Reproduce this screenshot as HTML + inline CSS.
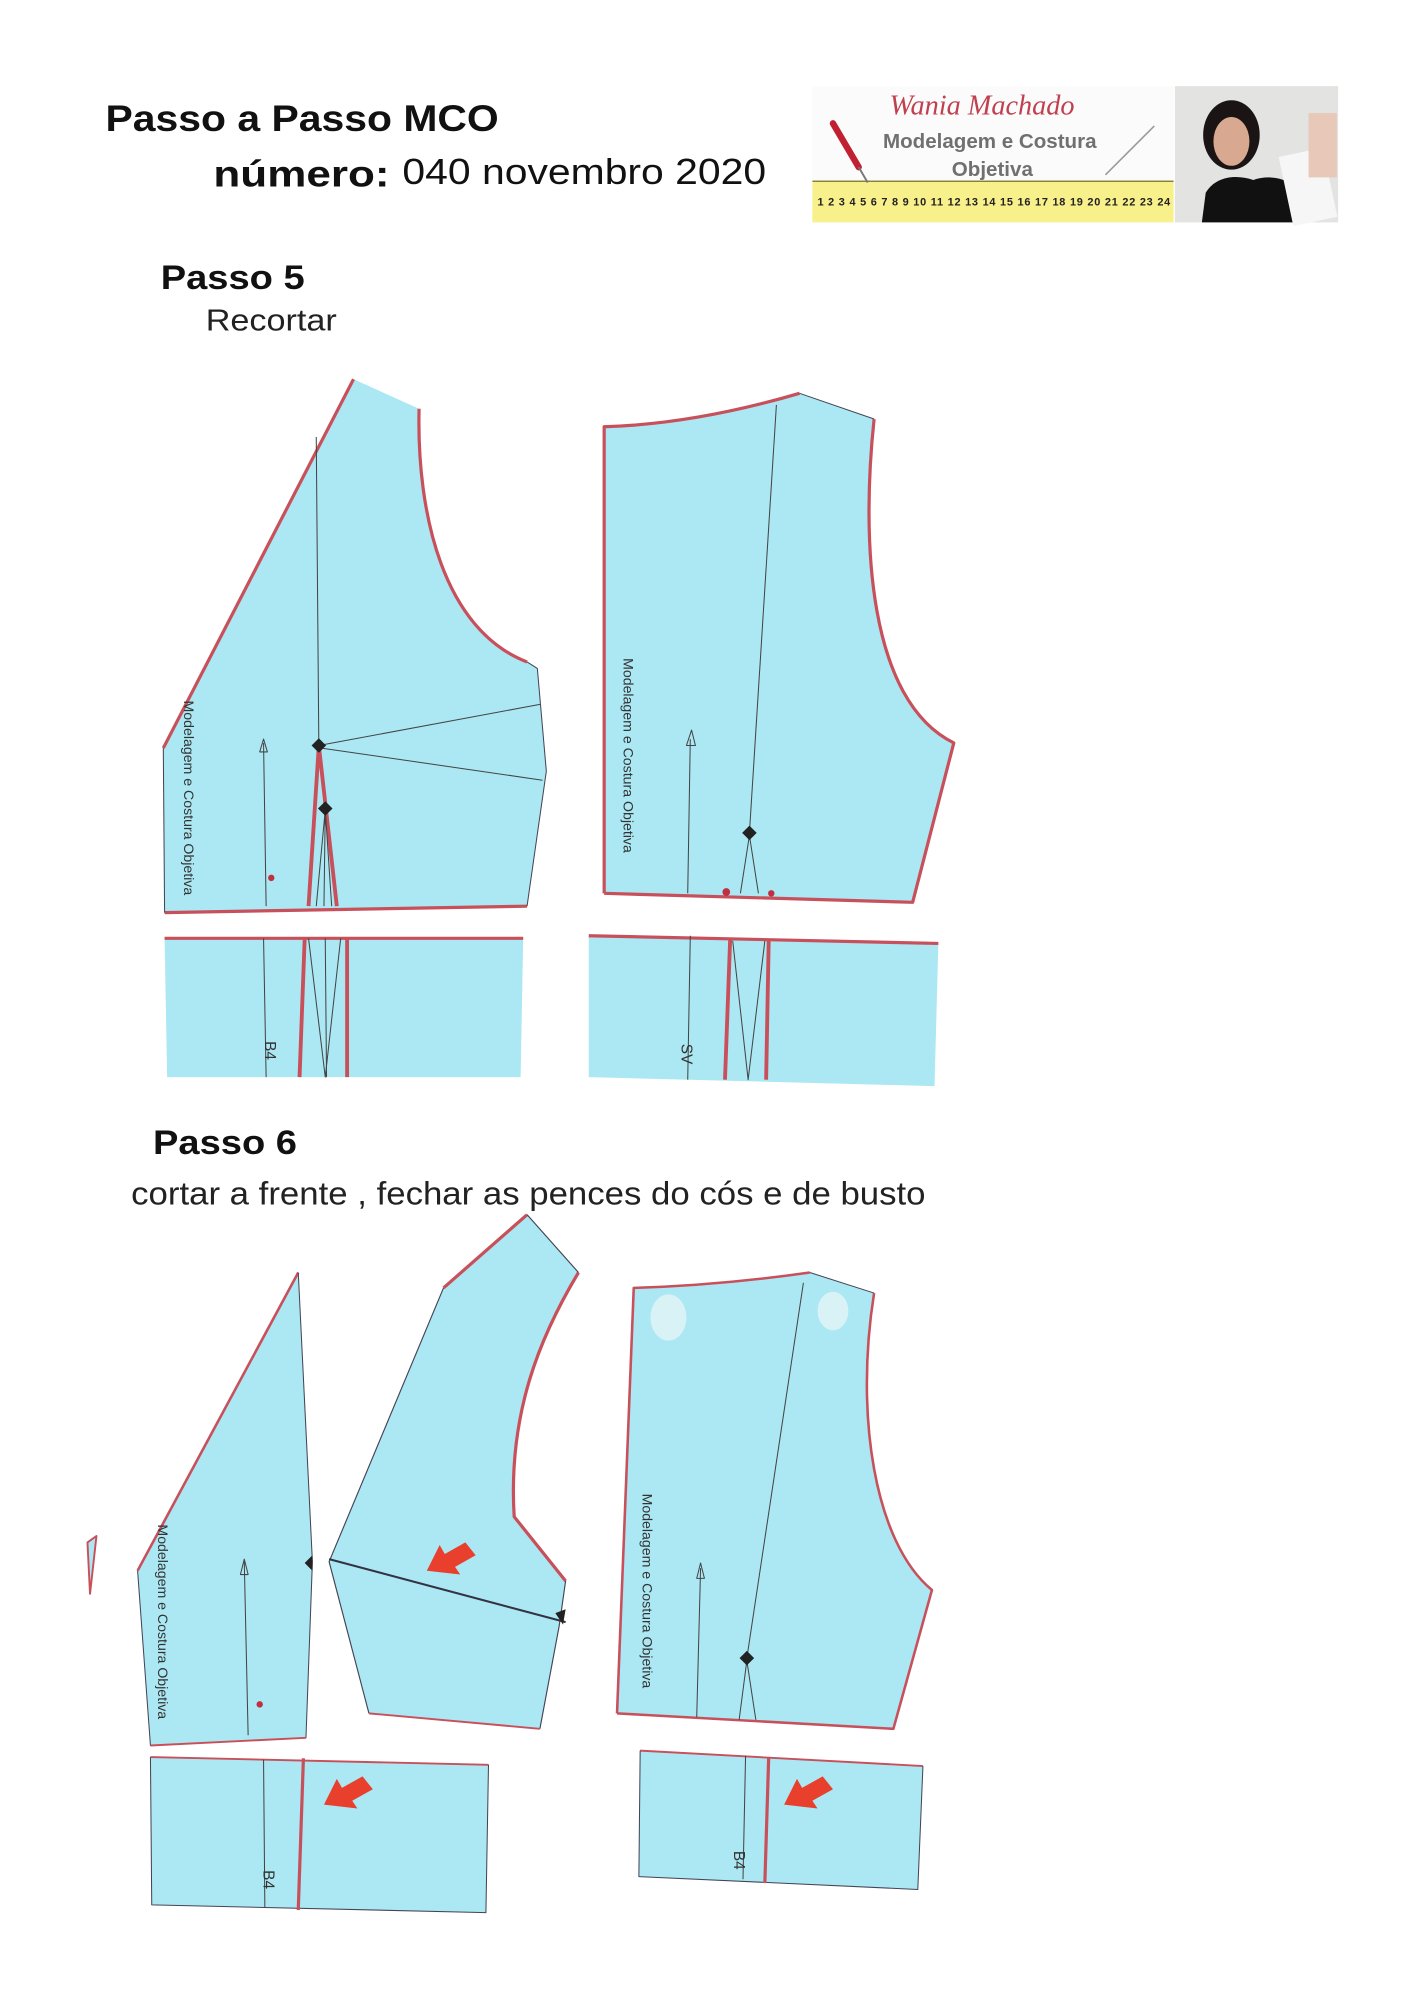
<!DOCTYPE html>
<html><head><meta charset="utf-8"><style>
html,body{margin:0;padding:0;background:#fff;}
svg{display:block;}
</style></head><body>
<svg width="1414" height="2000" viewBox="0 0 1100 1556" xmlns="http://www.w3.org/2000/svg" font-family="Liberation Sans, sans-serif">
<rect width="1100" height="1556" fill="#fff"/>
<!-- header -->
<text x="82" y="102" font-size="29" font-weight="bold" fill="#111" textLength="306" lengthAdjust="spacingAndGlyphs">Passo a Passo MCO</text>
<text x="166" y="145" font-size="29" font-weight="bold" fill="#111" textLength="137" lengthAdjust="spacingAndGlyphs">número:</text>
<text x="313" y="143" font-size="28" fill="#111" textLength="283" lengthAdjust="spacingAndGlyphs">040 novembro 2020</text>
<!-- logo -->
<rect x="632" y="67" width="281" height="106" fill="#fbfbfb"/>
<rect x="632" y="140" width="281" height="33" fill="#f8f08a"/>
<line x1="632" y1="141" x2="913" y2="141" stroke="#555" stroke-width="0.8"/>
<text x="636" y="160" font-size="8.5" font-weight="bold" fill="#222" letter-spacing="0.6">1 2 3 4 5 6 7 8 9 10 11 12 13 14 15 16 17 18 19 20 21 22 23 24</text>
<text x="764" y="89" font-size="22" font-style="italic" font-family="Liberation Serif, serif" fill="#c0404f" text-anchor="middle">Wania Machado</text>
<text x="770" y="115" font-size="16" font-weight="bold" fill="#707070" text-anchor="middle">Modelagem e Costura</text>
<text x="772" y="137" font-size="16" font-weight="bold" fill="#707070" text-anchor="middle">Objetiva</text>
<line x1="648" y1="96" x2="668" y2="130" stroke="#c02030" stroke-width="5" stroke-linecap="round"/>
<line x1="668" y1="130" x2="675" y2="142" stroke="#777" stroke-width="1.5"/>
<line x1="898" y1="98" x2="860" y2="136" stroke="#999" stroke-width="1.2"/>
<rect x="914" y="67" width="127" height="106" fill="#e3e3e1"/>
<path d="M935,173 L938,150 C945,138 960,135 975,140 C990,135 1005,140 1012,150 L1015,173 Z" fill="#111"/>
<ellipse cx="958" cy="105" rx="22" ry="27" fill="#1a1414"/>
<ellipse cx="958" cy="110" rx="14" ry="19" fill="#d8a890"/>
<rect x="1000" y="118" width="35" height="55" fill="#f6f6f6" transform="rotate(-12 1017 145)"/>
<rect x="1018" y="88" width="22" height="50" fill="#e8c8b8"/>
<!-- titles -->
<text x="125" y="225" font-size="27" font-weight="bold" fill="#111" textLength="112" lengthAdjust="spacingAndGlyphs">Passo 5</text>
<text x="160" y="257" font-size="24" fill="#222" textLength="102" lengthAdjust="spacingAndGlyphs">Recortar</text>
<text x="119" y="898" font-size="27" font-weight="bold" fill="#111" textLength="112" lengthAdjust="spacingAndGlyphs">Passo 6</text>
<text x="102" y="937" font-size="25" fill="#222" textLength="618" lengthAdjust="spacingAndGlyphs">cortar a frente , fechar as pences do cós e de busto</text>

<g fill="#abe8f3" stroke-linejoin="round">
<!-- Step5 piece A -->
<path d="M275,295 L326,318 C324,400 345,490 410,515 L418,520 L425,600 L410,705 L128,710 L127,582 Z" stroke="none"/>
<path d="M127,582 L275,295" fill="none" stroke="#c8505b" stroke-width="2.5"/>
<path d="M326,318 C324,400 345,490 410,515" fill="none" stroke="#c8505b" stroke-width="2.5"/>
<path d="M128,710 L410,705" fill="none" stroke="#c8505b" stroke-width="2.5"/>
<path d="M410,515 L418,520 L425,600 L410,705 M128,710 L127,582" fill="none" stroke="#445" stroke-width="0.8"/>
<path d="M240,705 L248,580 L262,705" fill="none" stroke="#c8505b" stroke-width="3"/>
<g fill="none" stroke="#444" stroke-width="0.8">
<line x1="246" y1="340" x2="248" y2="580"/>
<line x1="248" y1="580" x2="420" y2="548"/>
<line x1="250" y1="582" x2="422" y2="607"/>
<line x1="205" y1="578" x2="207" y2="705"/>
<path d="M253,630 L246,705 M253,630 L258,705 M253,630 L252,705"/>
</g>
<path d="M202,585 L205,575 L208,585 Z" fill="none" stroke="#444" stroke-width="0.8"/>
<rect x="244" y="576" width="8" height="8" fill="#222" transform="rotate(45 248 580)"/>
<rect x="249" y="625" width="8" height="8" fill="#222" transform="rotate(45 253 629)"/>
<circle cx="211" cy="683" r="2.5" fill="#c03040"/>
<!-- band A -->
<path d="M128,730 L407,730 L405,838 L130,838 Z" stroke="none"/>
<path d="M128,730 L407,730" stroke="#c8505b" stroke-width="2.5" fill="none"/>
<path d="M237,730 L233,838 M270,730 L270,838" stroke="#c8505b" stroke-width="3" fill="none"/>
<g stroke="#444" stroke-width="0.8" fill="none"><line x1="205" y1="730" x2="207" y2="838"/><line x1="253" y1="730" x2="254" y2="838"/><path d="M240,730 L253,838 L265,730"/></g>
<text x="0" y="0" font-size="12" fill="#333" transform="translate(206,810) rotate(90)">B4</text>

<!-- Step5 piece B -->
<path d="M470,332 Q540,330 622,306 L680,326 C670,420 675,545 742,578 L710,702 L470,695 Z" stroke="none"/>
<path d="M470,695 L470,332 Q540,330 622,306" fill="none" stroke="#c8505b" stroke-width="2.5"/>
<path d="M680,326 C670,420 675,545 742,578 L710,702 L470,695" fill="none" stroke="#c8505b" stroke-width="2.5"/>
<path d="M622,306 L680,326" fill="none" stroke="#445" stroke-width="0.8"/>
<g stroke="#444" stroke-width="0.8" fill="none"><line x1="604" y1="315" x2="583" y2="648"/><line x1="537" y1="575" x2="535" y2="695"/><path d="M583,650 L576,695 M583,650 L590,695"/></g>
<path d="M534,580 L538,568 L541,580 Z" fill="none" stroke="#444" stroke-width="0.8"/>
<rect x="579" y="644" width="8" height="8" fill="#222" transform="rotate(45 583 648)"/>
<circle cx="565" cy="694" r="3" fill="#c03040"/><circle cx="600" cy="695" r="2.5" fill="#c03040"/>
<!-- band B -->
<path d="M458,728 L730,734 L727,845 L458,838 Z" stroke="none"/>
<path d="M458,728 L730,734" stroke="#c8505b" stroke-width="2.5" fill="none"/>
<path d="M568,731 L564,840 M598,732 L596,840" stroke="#c8505b" stroke-width="3" fill="none"/>
<g stroke="#444" stroke-width="0.8" fill="none"><line x1="537" y1="728" x2="535" y2="840"/><path d="M570,732 L582,840 L595,732"/></g>
<text x="0" y="0" font-size="12" fill="#333" transform="translate(530,812) rotate(90)">SV</text>

<!-- Step6 sliver -->
<path d="M68,1200 L75,1195 L70,1240 Z" stroke="#c8505b" stroke-width="1.5"/>
<!-- piece C -->
<path d="M232,990 L238,1105 L243,1215 L238,1352 L117,1358 L107,1222 Z" stroke="none"/>
<path d="M107,1222 L232,990" fill="none" stroke="#c8505b" stroke-width="2"/>
<path d="M232,990 L243,1215 L238,1352 L117,1358 L107,1222" fill="none" stroke="#445" stroke-width="0.8"/>
<path d="M117,1358 L238,1352" fill="none" stroke="#c8505b" stroke-width="1.5"/>
<line x1="190" y1="1215" x2="193" y2="1350" stroke="#444" stroke-width="0.8"/>
<path d="M187,1225 L190,1213 L193,1225 Z" fill="none" stroke="#444" stroke-width="0.8"/>
<circle cx="202" cy="1326" r="2.5" fill="#c03040"/>
<path d="M243,1210 L237,1216 L243,1222 Z" fill="#222"/>
<!-- piece D -->
<path d="M410,945 L450,990 C420,1040 395,1100 400,1180 L440,1230 L435,1265 L420,1345 L287,1333 L256,1215 L345,1002 Z" stroke="none"/>
<path d="M345,1002 L410,945" fill="none" stroke="#c8505b" stroke-width="2.5"/>
<path d="M450,990 C420,1040 395,1100 400,1180 L440,1230" fill="none" stroke="#c8505b" stroke-width="2.5"/>
<path d="M410,945 L450,990 M440,1230 L435,1265 L420,1345 M287,1333 L256,1215 L345,1002" fill="none" stroke="#445" stroke-width="0.9"/>
<path d="M287,1333 L420,1345" fill="none" stroke="#c8505b" stroke-width="1.5"/>
<line x1="256" y1="1213" x2="440" y2="1262" stroke="#334" stroke-width="1.6"/>
<path d="M432,1255 L440,1252 L438,1264 Z" fill="#222"/>
<!-- band CD -->
<path d="M117,1367 L380,1373 L378,1488 L118,1482 Z" stroke="none"/>
<path d="M117,1367 L380,1373" stroke="#c8505b" stroke-width="1.5" fill="none"/>
<path d="M117,1367 L118,1482 L378,1488 L380,1373" stroke="#445" stroke-width="0.8" fill="none"/>
<path d="M236,1368 L232,1486" stroke="#c8505b" stroke-width="2.5" fill="none"/>
<line x1="205" y1="1369" x2="206" y2="1484" stroke="#444" stroke-width="0.8"/>
<text x="0" y="0" font-size="12" fill="#333" transform="translate(205,1455) rotate(90)">B4</text>
<!-- piece E -->
<path d="M493,1002 Q560,1000 630,990 L680,1006 C665,1100 680,1200 725,1237 L695,1345 L480,1333 Z" stroke="none"/>
<path d="M480,1333 L493,1002 Q560,1000 630,990" fill="none" stroke="#c8505b" stroke-width="2"/>
<path d="M680,1006 C665,1100 680,1200 725,1237 L695,1345 L480,1333" fill="none" stroke="#c8505b" stroke-width="2"/>
<path d="M630,990 L680,1006" fill="none" stroke="#445" stroke-width="0.8"/>
<ellipse cx="520" cy="1025" rx="14" ry="18" fill="#d8f2f6"/>
<ellipse cx="648" cy="1020" rx="12" ry="15" fill="#d8f2f6"/>
<g stroke="#444" stroke-width="0.8" fill="none"><line x1="625" y1="998" x2="581" y2="1290"/><line x1="545" y1="1220" x2="542" y2="1336"/><path d="M581,1292 L575,1338 M581,1292 L588,1338"/></g>
<path d="M542,1228 L545,1216 L548,1228 Z" fill="none" stroke="#444" stroke-width="0.8"/>
<rect x="577" y="1286" width="8" height="8" fill="#222" transform="rotate(45 581 1290)"/>
<!-- band E -->
<path d="M498,1362 L718,1374 L714,1470 L497,1460 Z" stroke="none"/>
<path d="M498,1362 L718,1374" stroke="#c8505b" stroke-width="1.5" fill="none"/>
<path d="M498,1362 L497,1460 L714,1470 L718,1374" stroke="#445" stroke-width="0.8" fill="none"/>
<path d="M598,1367 L595,1465" stroke="#c8505b" stroke-width="2.5" fill="none"/>
<line x1="580" y1="1366" x2="578" y2="1462" stroke="#444" stroke-width="0.8"/>
<text x="0" y="0" font-size="12" fill="#333" transform="translate(571,1440) rotate(90)">B4</text>
</g>
<!-- rotated watermark text -->
<g font-size="11" fill="#333">
<text transform="translate(143,545) rotate(90)">Modelagem e Costura Objetiva</text>
<text transform="translate(485,512) rotate(90)">Modelagem e Costura Objetiva</text>
<text transform="translate(123,1186) rotate(90)">Modelagem e Costura Objetiva</text>
<text transform="translate(500,1162) rotate(90)">Modelagem e Costura Objetiva</text>
</g>
<!-- red arrows -->
<g fill="#e8402c">
<path d="M0,0 L10,-20 L14,-13 L30,-22 L38,-12 L22,-3 L26,3 Z" transform="translate(332,1222)"/>
<path d="M0,0 L10,-20 L14,-13 L30,-22 L38,-12 L22,-3 L26,3 Z" transform="translate(252,1404)"/>
<path d="M0,0 L10,-20 L14,-13 L30,-22 L38,-12 L22,-3 L26,3 Z" transform="translate(610,1404)"/>
</g>
</svg>
</body></html>
